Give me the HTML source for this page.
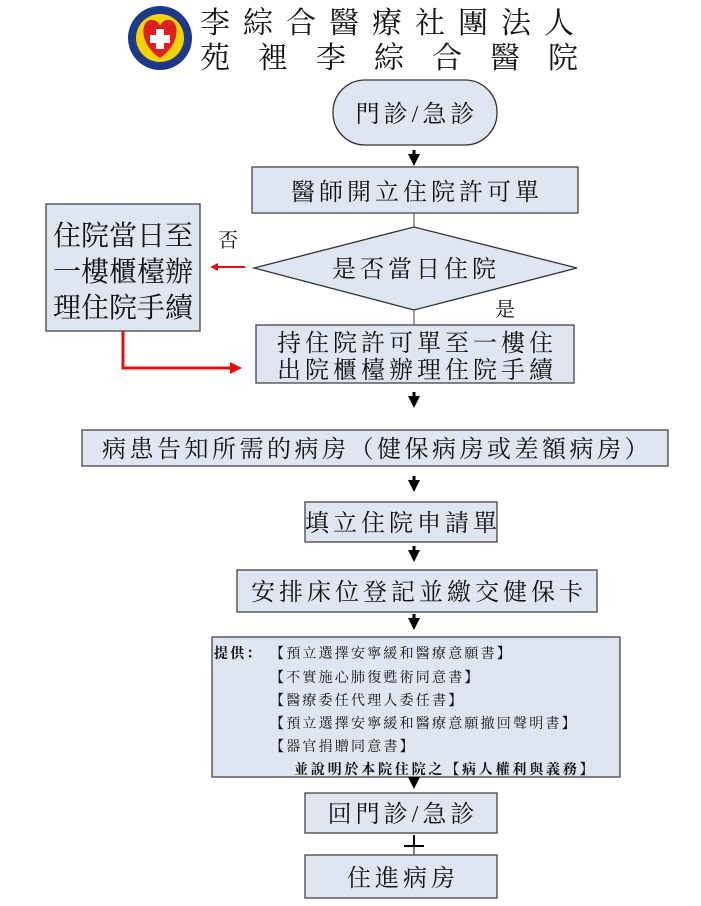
<!DOCTYPE html>
<html><head><meta charset="utf-8"><style>
body{margin:0;background:#fff;}
svg text{font-family:"Liberation Serif","Noto Serif CJK SC","Noto Sans CJK TC",serif;fill:#111;}
.s{letter-spacing:4px;}
</style></head><body>
<svg width="701" height="901" viewBox="0 0 701 901" xmlns="http://www.w3.org/2000/svg">
<defs>
<marker id="ah" markerWidth="4" markerHeight="4" refX="2" refY="2" orient="auto" markerUnits="strokeWidth"><path d="M0,0 L4,2 L0,4z" fill="#000"/></marker>
<marker id="rh" markerWidth="4" markerHeight="4" refX="2" refY="2" orient="auto" markerUnits="strokeWidth"><path d="M0,0 L4,2 L0,4z" fill="#e01010"/></marker>
</defs>
<!-- logo -->
<circle cx="160" cy="38" r="32" fill="#1d3a8a"/>
<circle cx="160" cy="38" r="24" fill="#f4d400"/>
<path d="M160,58 C140,45 140,22 150,20 C156,19 159,23 160,26 C161,23 164,19 170,20 C180,22 180,45 160,58z" fill="#e02020"/>
<rect x="156" y="29" width="8" height="20" fill="#fff"/><rect x="150" y="35" width="20" height="8" fill="#fff"/>
<text x="200" y="33" font-size="30" letter-spacing="13">李綜合醫療社團法人</text>
<text x="200" y="68" font-size="30" letter-spacing="28">苑裡李綜合醫院</text>
<!-- terminal -->
<rect x="333" y="80" width="164" height="65" rx="32" fill="#dfe6f2" stroke="#333" stroke-width="1.3"/>
<text x="417" y="122" font-size="24" text-anchor="middle" class="s">門診/急診</text>
<line x1="414" y1="150" x2="414" y2="160" stroke="#000" stroke-width="3" marker-end="url(#ah)"/>
<rect x="252" y="167" width="326" height="46" fill="#dfe6f2" stroke="#444" stroke-width="1.3"/>
<text x="417" y="200" font-size="24" text-anchor="middle" class="s">醫師開立住院許可單</text>
<line x1="414" y1="213" x2="414" y2="227" stroke="#444" stroke-width="1"/>
<polygon points="254,268 414,227 577,268 414,310" fill="#dfe6f2" stroke="#333" stroke-width="1.3"/>
<text x="416" y="277" font-size="24" text-anchor="middle" class="s">是否當日住院</text>
<text x="218" y="247" font-size="20">否</text>
<text x="495" y="316" font-size="20">是</text>
<line x1="245" y1="267" x2="214" y2="267" stroke="#e01010" stroke-width="2" marker-end="url(#rh)"/>
<rect x="46" y="204" width="154" height="127" fill="#dfe6f2" stroke="#444" stroke-width="1.3"/>
<text x="123" y="245" font-size="28" text-anchor="middle" font-family="Liberation Sans,Noto Sans CJK TC,sans-serif">住院當日至</text>
<text x="123" y="281" font-size="28" text-anchor="middle" font-family="Liberation Sans,Noto Sans CJK TC,sans-serif">一樓櫃檯辦</text>
<text x="123" y="317" font-size="28" text-anchor="middle" font-family="Liberation Sans,Noto Sans CJK TC,sans-serif">理住院手續</text>
<polyline points="123,331 123,368 236,368" fill="none" stroke="#e01010" stroke-width="3" marker-end="url(#rh)"/>
<line x1="414" y1="310" x2="414" y2="325" stroke="#444" stroke-width="1"/>
<rect x="256" y="325" width="318" height="58" fill="#dfe6f2" stroke="#444" stroke-width="1.3"/>
<text x="417" y="351" font-size="24" text-anchor="middle" class="s">持住院許可單至一樓住</text>
<text x="417" y="378" font-size="24" text-anchor="middle" class="s">出院櫃檯辦理住院手續</text>
<line x1="414" y1="392" x2="414" y2="402" stroke="#000" stroke-width="3" marker-end="url(#ah)"/>
<rect x="82" y="430" width="586" height="36" fill="#dfe6f2" stroke="#444" stroke-width="1.3"/>
<text x="377" y="457" font-size="24" text-anchor="middle" letter-spacing="3.5">病患告知所需的病房（健保病房或差額病房）</text>
<line x1="414" y1="476" x2="414" y2="486" stroke="#000" stroke-width="3" marker-end="url(#ah)"/>
<rect x="305" y="502" width="192" height="40" fill="#dfe6f2" stroke="#444" stroke-width="1.3"/>
<text x="403" y="531" font-size="24" text-anchor="middle" class="s">填立住院申請單</text>
<line x1="414" y1="546" x2="414" y2="556" stroke="#000" stroke-width="3" marker-end="url(#ah)"/>
<rect x="237" y="570" width="360" height="42" fill="#dfe6f2" stroke="#444" stroke-width="1.3"/>
<text x="419" y="600" font-size="24" text-anchor="middle" class="s">安排床位登記並繳交健保卡</text>
<line x1="414" y1="614" x2="414" y2="624" stroke="#000" stroke-width="3" marker-end="url(#ah)"/>
<rect x="212" y="637" width="408" height="140" fill="#dfe6f2" stroke="#444" stroke-width="1.3"/>
<g font-size="14" letter-spacing="2.2">
<text x="214" y="658" font-weight="bold">提供：</text>
<text x="270" y="658">【預立選擇安寧緩和醫療意願書】</text>
<text x="270" y="682">【不實施心肺復甦術同意書】</text>
<text x="270" y="705">【醫療委任代理人委任書】</text>
<text x="270" y="728">【預立選擇安寧緩和醫療意願撤回聲明書】</text>
<text x="270" y="751">【器官捐贈同意書】</text>
<text x="294" y="774" font-weight="bold" letter-spacing="2.8">並說明於本院住院之【病人權利與義務】</text>
</g>
<line x1="414" y1="777" x2="414" y2="783" stroke="#000" stroke-width="3" marker-end="url(#ah)"/>
<rect x="305" y="793" width="192" height="40" fill="#dfe6f2" stroke="#444" stroke-width="1.3"/>
<text x="403" y="822" font-size="24" text-anchor="middle" class="s">回門診/急診</text>
<line x1="414" y1="835" x2="414" y2="845" stroke="#000" stroke-width="2"/>
<line x1="404" y1="846" x2="424" y2="846" stroke="#000" stroke-width="2"/>
<line x1="414" y1="846" x2="414" y2="855" stroke="#000" stroke-width="1"/>
<rect x="305" y="855" width="192" height="43" fill="#dfe6f2" stroke="#444" stroke-width="1.3"/>
<text x="403" y="886" font-size="24" text-anchor="middle" class="s">住進病房</text>
</svg>
</body></html>
